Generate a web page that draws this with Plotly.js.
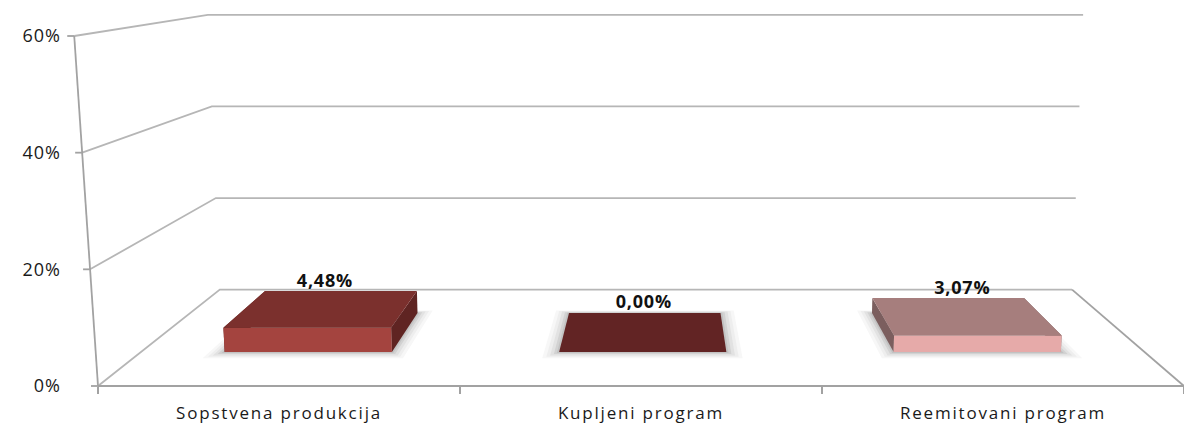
<!DOCTYPE html>
<html>
<head>
<meta charset="utf-8">
<script src="https://cdn.plot.ly/plotly-3.0.1.min.js"></script>
<style>
  html, body { margin:0; padding:0; background:#fff; overflow:hidden; }
  #chart { width:1184px; height:425px; }
</style>
</head>
<body>
<div id="chart"></div>
<script>
// ---------------- data ----------------
const categories = ['Sopstvena produkcija', 'Kupljeni program', 'Reemitovani program'];
const values = [4.48, 0.00, 3.07];
const valueLabels = ['4,48%', '0,00%', '3,07%'];
const zTicks = [0, 20, 40, 60];
const zTickLabels = ['0%', '20%', '40%', '60%'];
const frontColors = ['#a4443f', '#622424', '#e6aaa9'];
const topColors = ['#7b302d', '#622424', '#a67e7d'];
const sideColors = ['#5f2422', '#4a1b1b', '#7b5e5e'];

// ------------- pseudo-3D projection (Excel-like perspective floor) -------------
const W = 1184, H = 425;
const VPX = 664, VPY = -62;          // vanishing point (px)
const EYE = 1207, DEPTH = 331;       // perspective strength
const FRONT_LEFT = -566;             // front-left corner relative to VP (px)
const PX_PER_CAT = 362, PX_PER_PCT = 5.8333, FLOOR_BELOW = 448;
const ZMAX = zTicks[zTicks.length - 1];
const ORIGIN_X = VPX + FRONT_LEFT, ORIGIN_Y = VPY + FLOOR_BELOW;
const BAR_HALF = 0.25, BAR_T0 = 0.30, BAR_T1 = 0.71;
const NCAT = categories.length;

function project(c, t, z) {
  const X = FRONT_LEFT + c * PX_PER_CAT;
  const s = EYE / (EYE + DEPTH * t);
  const g = 1 + (z / ZMAX) * (0.042 - 0.015 * t);
  const px = VPX + s * X * g;
  const py = VPY + s * (FLOOR_BELOW - z * PX_PER_PCT);
  return [(px - ORIGIN_X) / PX_PER_CAT, (ORIGIN_Y - py) / PX_PER_PCT];
}

function polyline(pointsList) {
  const x = [], y = [];
  pointsList.forEach(seg => {
    seg.forEach(p => { const q = project(p[0], p[1], p[2]); x.push(q[0]); y.push(q[1]); });
    x.push(null); y.push(null);
  });
  return { x, y };
}

const FONT = '"Open Sans", "Liberation Sans", sans-serif';
const traces = [];

// walls: left wall + back wall gridlines, from the tick values
const gridSegs = [];
zTicks.forEach(z => {
  gridSegs.push([[0, 0, z], [0, 1, z], [NCAT, 1, z]]);
});
const g = polyline(gridSegs);
traces.push({ type: 'scatter', mode: 'lines', x: g.x, y: g.y, line: { color: '#b6b6b6', width: 1.8 },
  hoverinfo: 'skip', cliponaxis: false });

// axis frame: vertical axis, its tick marks, front floor edge, right floor edge
const frameSegs = [
  [[0, 0, 0], [0, 0, ZMAX]],
  [[0, 0, 0], [NCAT, 0, 0]],
  [[NCAT, 1, 0], [NCAT, 0, 0]]
];
const fr = polyline(frameSegs);
zTicks.forEach(z => {
  const q = project(0, 0, z);
  fr.x.push(q[0] - 7 / PX_PER_CAT, q[0], null);
  fr.y.push(q[1], q[1], null);
});
traces.push({ type: 'scatter', mode: 'lines', x: fr.x, y: fr.y, line: { color: '#a2a2a2', width: 1.8 },
  hoverinfo: 'skip', cliponaxis: false });

function quadTrace(pts, color) {
  const x = [], y = [];
  pts.forEach(p => { const q = project(p[0], p[1], p[2]); x.push(q[0]); y.push(q[1]); });
  x.push(x[0]); y.push(y[0]);
  return { type: 'scatter', mode: 'lines', x, y, fill: 'toself', fillcolor: color,
    line: { width: 0, color: color }, hoverinfo: 'skip' };
}

// soft shadow halo under each bar (layers from outer/light to inner/dark)
const halo = [
  [0.045, 0.060, 0.030, '#f7f7f7'],
  [0.034, 0.046, 0.023, '#eeeeee'],
  [0.024, 0.033, 0.016, '#e2e2e2'],
  [0.014, 0.020, 0.010, '#d2d2d2'],
  [0.006, 0.009, 0.004, '#c2c2c2']
];
categories.forEach((_, i) => {
  const c = i + 0.5;
  halo.forEach(s => {
    const a = c - BAR_HALF - s[0], b = c + BAR_HALF + s[0];
    const t0 = BAR_T0 - s[1], t1 = BAR_T1 + s[2];
    traces.push(quadTrace([[a, t0, 0], [b, t0, 0], [b, t1, 0], [a, t1, 0]], s[3]));
  });
});

// bars: side faces, front face, top face
categories.forEach((_, i) => {
  const v = values[i];
  const c0 = i + 0.5 - BAR_HALF, c1 = i + 0.5 + BAR_HALF;
  traces.push(quadTrace([[c0, BAR_T0, 0], [c0, BAR_T1, 0], [c0, BAR_T1, v], [c0, BAR_T0, v]], sideColors[i]));
  traces.push(quadTrace([[c1, BAR_T0, 0], [c1, BAR_T1, 0], [c1, BAR_T1, v], [c1, BAR_T0, v]], sideColors[i]));
  traces.push(quadTrace([[c0, BAR_T0, 0], [c1, BAR_T0, 0], [c1, BAR_T0, v], [c0, BAR_T0, v]], frontColors[i]));
  traces.push(quadTrace([[c0, BAR_T0, v], [c1, BAR_T0, v], [c1, BAR_T1, v], [c0, BAR_T1, v]], topColors[i]));
});

// value labels above each bar (horizontal position from the top-face centre, height from its back edge)
const lx = [], ly = [];
values.forEach((v, i) => {
  lx.push(project(i + 0.5, (BAR_T0 + BAR_T1) / 2, v)[0]);
  ly.push(project(i + 0.5, BAR_T1, v)[1]);
});
traces.push({ type: 'scatter', mode: 'text', x: lx, y: ly,
  text: valueLabels.map(t => '<span style="letter-spacing:0.8px">' + t + '</span>'),
  textposition: 'top center', cliponaxis: false, hoverinfo: 'skip',
  textfont: { family: FONT, size: 18, color: '#111111', weight: 'bold' } });

const catCenters = categories.map((_, i) => i + 0.5);
const catBounds = [];
for (let i = 0; i <= NCAT; i++) catBounds.push(i);

const layout = {
  width: W, height: H,
  margin: { l: 0, r: 0, t: 0, b: 0 },
  paper_bgcolor: '#ffffff', plot_bgcolor: 'rgba(0,0,0,0)',
  showlegend: false, hovermode: false,
  xaxis: {
    range: [-ORIGIN_X / PX_PER_CAT, (W - ORIGIN_X) / PX_PER_CAT],
    anchor: 'free', position: 1 - ORIGIN_Y / H,
    showgrid: false, zeroline: false, showline: false,
    tickvals: catCenters,
    ticktext: categories.map(c => '<span style="letter-spacing:1.8px">' + c + '</span>'),
    ticks: '', ticklabelstandoff: 15,
    tickfont: { family: FONT, size: 17, color: '#1a1a1a' },
    minor: { tickvals: catBounds, ticks: 'outside', ticklen: 7, tickcolor: '#a2a2a2', tickwidth: 1.8, showgrid: false }
  },
  yaxis: {
    range: [(ORIGIN_Y - H) / PX_PER_PCT, ORIGIN_Y / PX_PER_PCT],
    anchor: 'free', position: 61 / W,
    showgrid: false, zeroline: false, showline: false,
    tickvals: zTicks,
    ticktext: zTickLabels.map(t => '<span style="letter-spacing:1px">' + t + '</span>'),
    ticks: '',
    tickfont: { family: FONT, size: 18, color: '#1a1a1a' }
  }
};

Plotly.newPlot('chart', traces, layout, { displayModeBar: false, staticPlot: true });
</script>
</body>
</html>
